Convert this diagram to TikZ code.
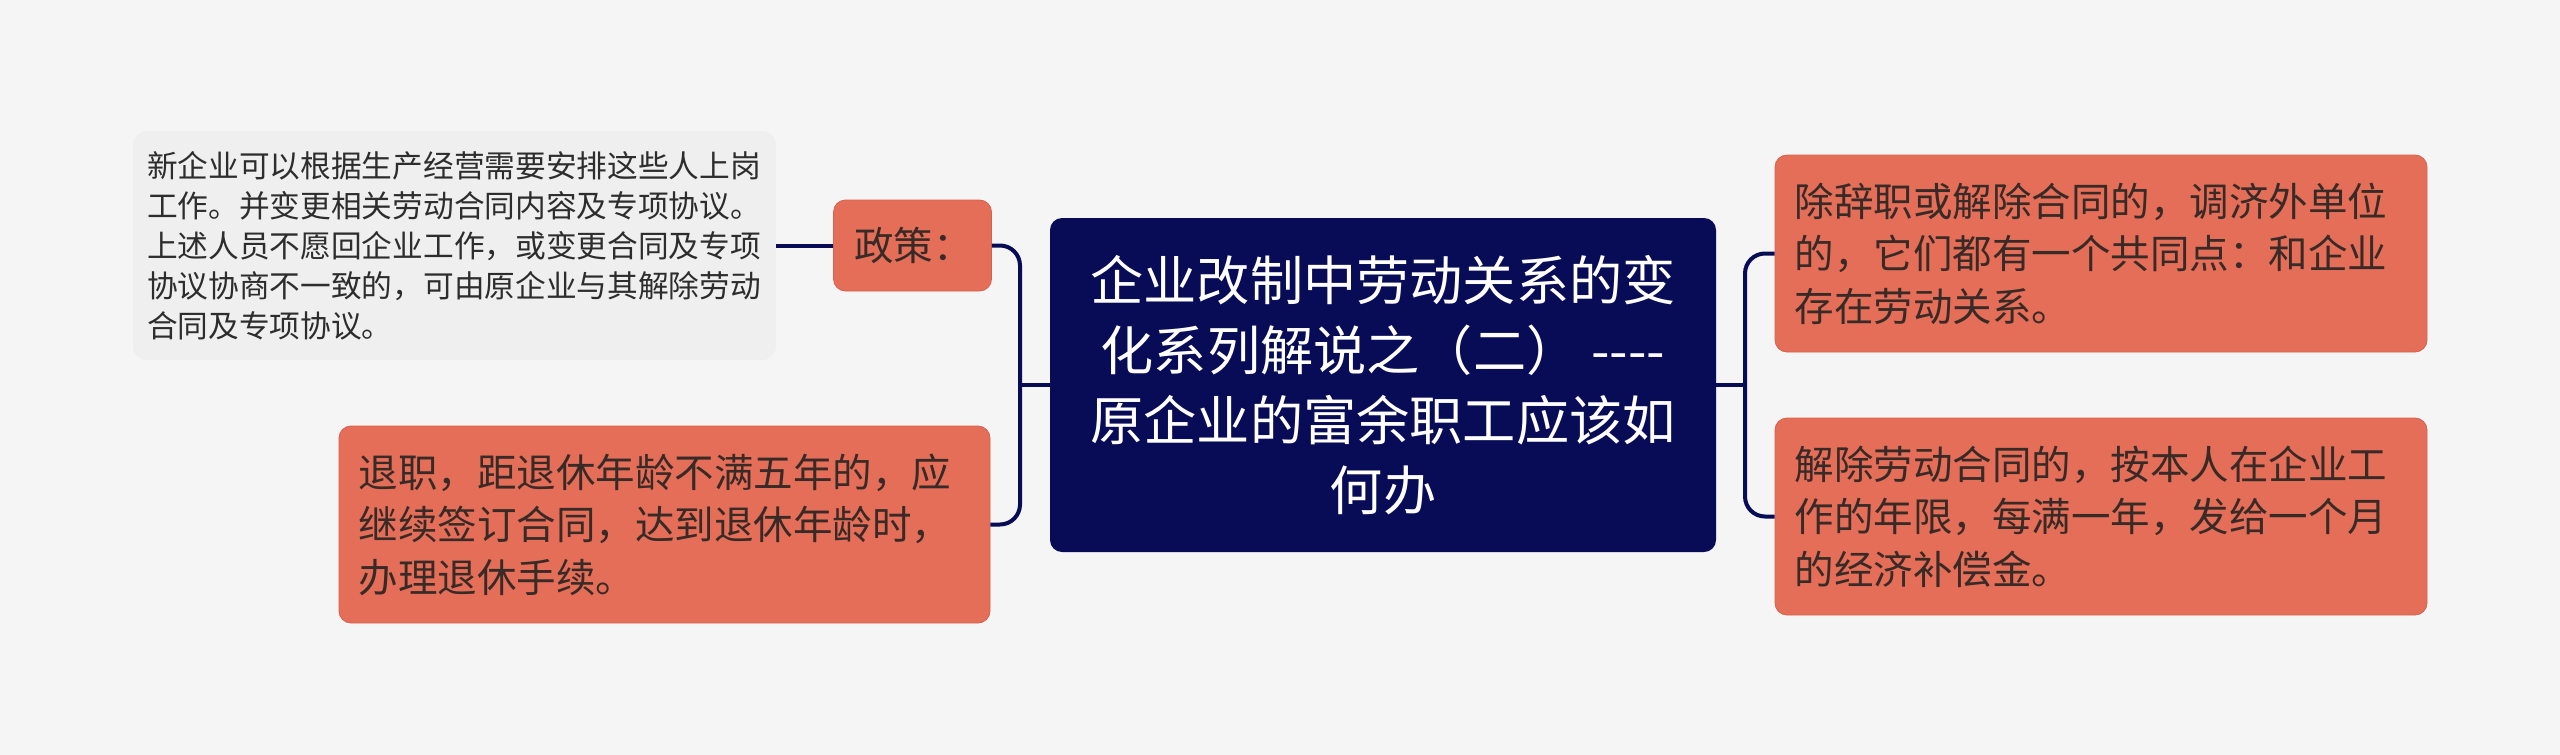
\documentclass[tikz,border=0pt]{standalone}
\usepackage{fontspec}
\setmainfont{Noto Sans CJK SC}
\definecolor{navy}{RGB}{8,12,86}
\definecolor{coral}{RGB}{229,110,88}
\definecolor{coraledge}{RGB}{214,98,78}
\definecolor{graybox}{RGB}{239,239,239}
\definecolor{bgc}{RGB}{245,245,245}
\definecolor{txt}{RGB}{56,42,38}
\definecolor{graytxt}{RGB}{45,45,45}
\tikzset{
  orangebox/.style={fill=coral, draw=coraledge, line width=0.8pt, rounded corners=12pt, text=txt,
    text width=612pt, minimum height=197pt, inner xsep=19.5pt, inner ysep=0pt, align=left,
    font=\fontsize{39.5}{52.5}\selectfont},
  rootbox/.style={fill=navy, rounded corners=12pt, text=white, minimum width=666pt,
    minimum height=334pt, inner sep=0pt, align=center, font=\fontsize{53.2}{70}\selectfont},
  notebox/.style={fill=graybox, rounded corners=14pt, text=graytxt, text width=615pt,
    minimum height=229pt, inner xsep=14pt, inner ysep=0pt, align=left, font=\fontsize{30.7}{40}\selectfont},
  conn/.style={draw=navy, line width=4pt, rounded corners=20pt}
}
\begin{document}
\begin{tikzpicture}[x=1pt,y=-1pt]
\fill[bgc] (0,0) rectangle (2560,755);
\useasboundingbox (0,0) rectangle (2560,755);

\node[rootbox] (root) at (1383,385) {企业改制中劳动关系的变\\化系列解说之（二） -{}-{}-{}-\\原企业的富余职工应该如\\何办};

\node[orangebox, text width=117pt, inner xsep=20.5pt, minimum height=91pt] (policy) at (912.5,245.5) {政策：};
\node[notebox] (note) at (454.5,245.5) {新企业可以根据生产经营需要安排这些人上岗\\工作。并变更相关劳动合同内容及专项协议。\\上述人员不愿回企业工作，或变更合同及专项\\协议协商不一致的，可由原企业与其解除劳动\\合同及专项协议。};
\node[orangebox] (retire) at (664.5,524.5) {退职，距退休年龄不满五年的，应\\继续签订合同，达到退休年龄时，\\办理退休手续。};

\node[orangebox, text width=613pt] (rt) at (2101,253.5) {除辞职或解除合同的，调济外单位\\的，它们都有一个共同点：和企业\\存在劳动关系。};
\node[orangebox, text width=613pt] (rb) at (2101,516.5) {解除劳动合同的，按本人在企业工\\作的年限，每满一年，发给一个月\\的经济补偿金。};

\coordinate (lj) at (1020,385);
\coordinate (rj) at (1745,385);

\draw[conn] (note.east) -- (policy.west);
\draw[conn] (policy.east) -| (lj) |- (retire.east);
\draw[conn] (root.west) -- (lj);
\draw[conn] (rt.west) -| (rj) |- (rb.west);
\draw[conn] (root.east) -- (rj);
\end{tikzpicture}
\end{document}
